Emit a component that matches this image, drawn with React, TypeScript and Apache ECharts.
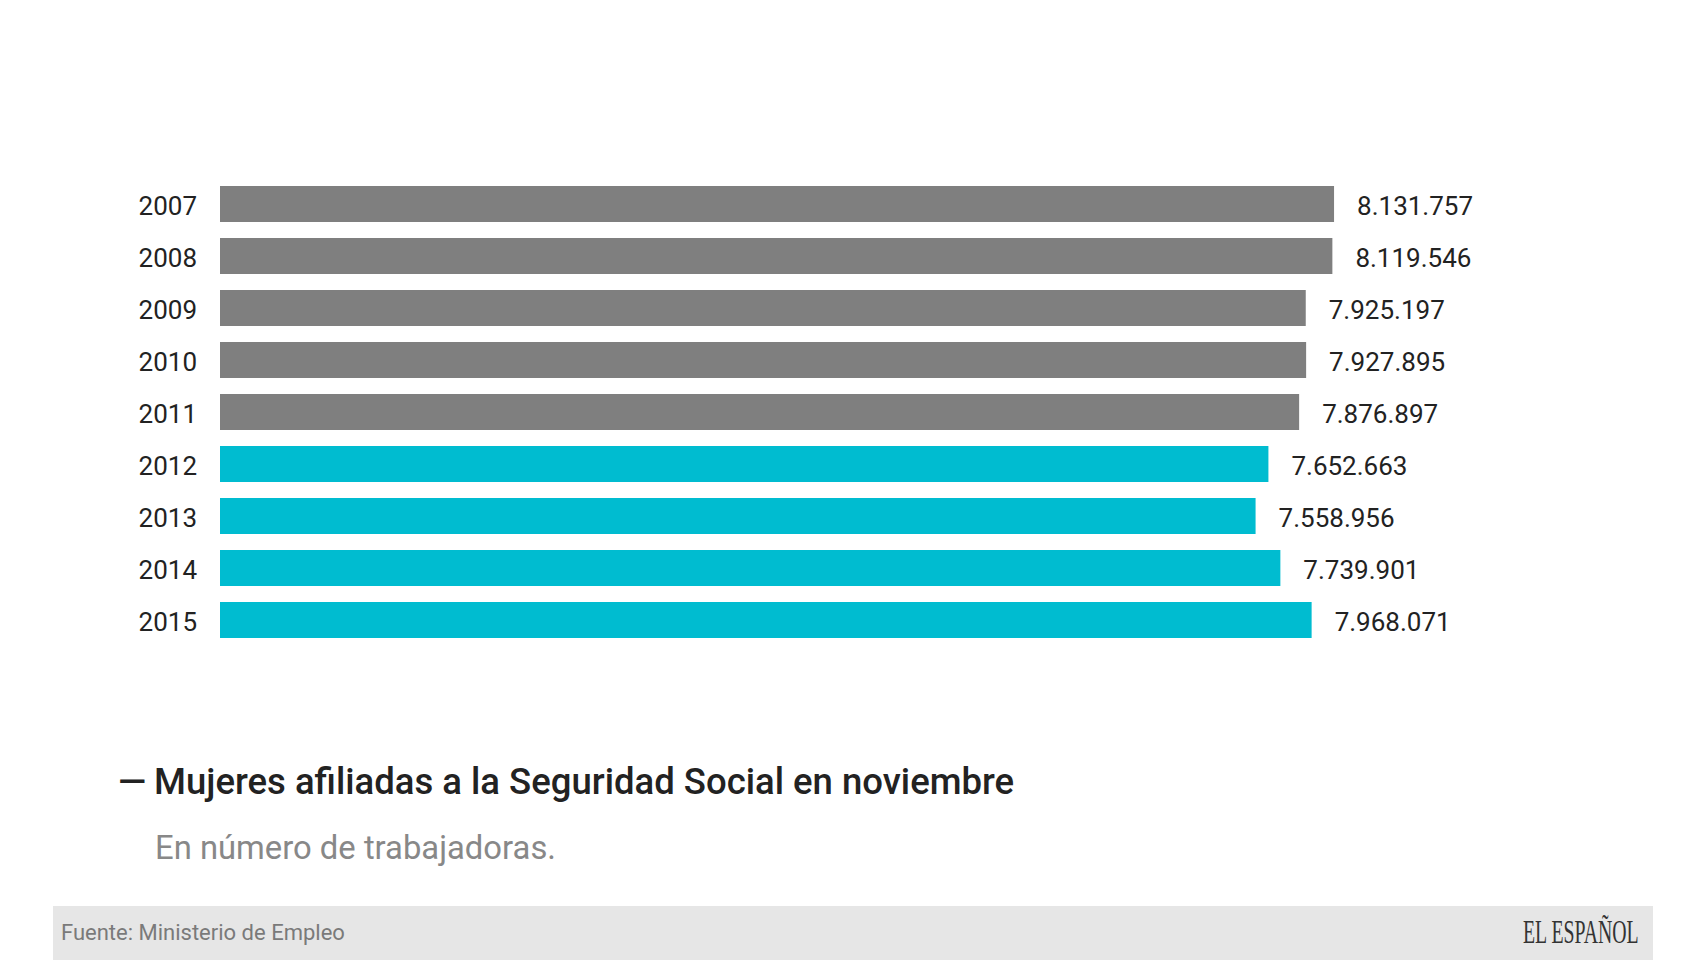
import React, { useEffect, useRef } from "react";
import * as echarts from "echarts";

const years = ["2007", "2008", "2009", "2010", "2011", "2012", "2013", "2014", "2015"];
const values = [8131757, 8119546, 7925197, 7927895, 7876897, 7652663, 7558956, 7739901, 7968071];
const groups = ["a", "a", "a", "a", "a", "b", "b", "b", "b"];
const groupColors: Record<string, string> = { a: "#7f7f7f", b: "#00bcd0" };

const titleText = "Mujeres afiliadas a la Seguridad Social en noviembre";
const subtitleText = "En número de trabajadoras.";
const sourceText = "Fuente: Ministerio de Empleo";
const brandText = "EL ESPAÑOL";

function fmt(v: number): string {
  return String(Math.round(v)).replace(/\B(?=(\d{3})+(?!\d))/g, ".");
}

export default function App() {
  const ref = useRef<HTMLDivElement>(null);
  useEffect(() => {
    if (!ref.current) return;
    const chart = echarts.init(ref.current, null, { renderer: "svg" });
    const font = "Roboto, 'Noto Sans', sans-serif";
    chart.setOption({
      animation: false,
      backgroundColor: "#ffffff",
      grid: { left: 220, right: 253, top: 178, height: 468 },
      xAxis: {
        type: "value",
        min: 0,
        max: 9000000,
        show: false,
      },
      yAxis: {
        type: "category",
        data: years,
        inverse: true,
        axisLine: { show: false },
        axisTick: { show: false },
        splitLine: { show: false },
        axisLabel: {
          margin: 23,
          fontSize: 26,
          color: "#222222",
          fontFamily: font,
          formatter: "{y|{value}}",
          rich: {
            y: {
              fontSize: 26,
              color: "#222222",
              fontFamily: font,
              padding: [4, 0, 0, 0],
            },
          },
        },
      },
      series: [
        {
          type: "bar",
          barWidth: 36,
          data: values.map((v, i) => ({
            value: v,
            itemStyle: { color: groupColors[groups[i]] },
          })),
          label: {
            show: true,
            position: "right",
            distance: 23,
            fontSize: 26,
            color: "#222222",
            fontFamily: font,
            offset: [0, 2],
            formatter: (p: any) => fmt(p.value),
          },
        },
      ],
      graphic: [
        {
          type: "text",
          x: 118,
          y: 781,
          style: {
            text: "—",
            fontSize: 36.5,
            fontWeight: 500,
            fontFamily: font,
            fill: "#222222",
            verticalAlign: "middle",
          },
        },
        {
          type: "text",
          x: 154,
          y: 781,
          style: {
            text: titleText,
            fontSize: 36.5,
            fontWeight: 500,
            fontFamily: font,
            fill: "#222222",
            verticalAlign: "middle",
          },
        },
        {
          type: "text",
          x: 155,
          y: 848,
          style: {
            text: subtitleText,
            fontSize: 32.8,
            fontFamily: font,
            fill: "#888888",
            verticalAlign: "middle",
          },
        },
        {
          type: "rect",
          shape: { x: 53, y: 906, width: 1600, height: 54 },
          style: { fill: "#e6e6e6" },
        },
        {
          type: "text",
          x: 61,
          y: 932,
          style: {
            text: sourceText,
            fontSize: 22,
            fontFamily: font,
            fill: "#7a7a7a",
            verticalAlign: "middle",
          },
        },
        {
          type: "text",
          x: 1523,
          y: 932,
          scaleX: 0.6,
          style: {
            text: brandText,
            fontSize: 33,
            fontFamily: "'Liberation Serif', 'DejaVu Serif', serif",
            fill: "#333333",
            verticalAlign: "middle",
          },
        },
      ],
    });
    return () => chart.dispose();
  }, []);
  return (
    <div
      ref={ref}
      style={{ position: "fixed", left: 0, top: 0, width: 1706, height: 960, background: "#fff" }}
    />
  );
}
